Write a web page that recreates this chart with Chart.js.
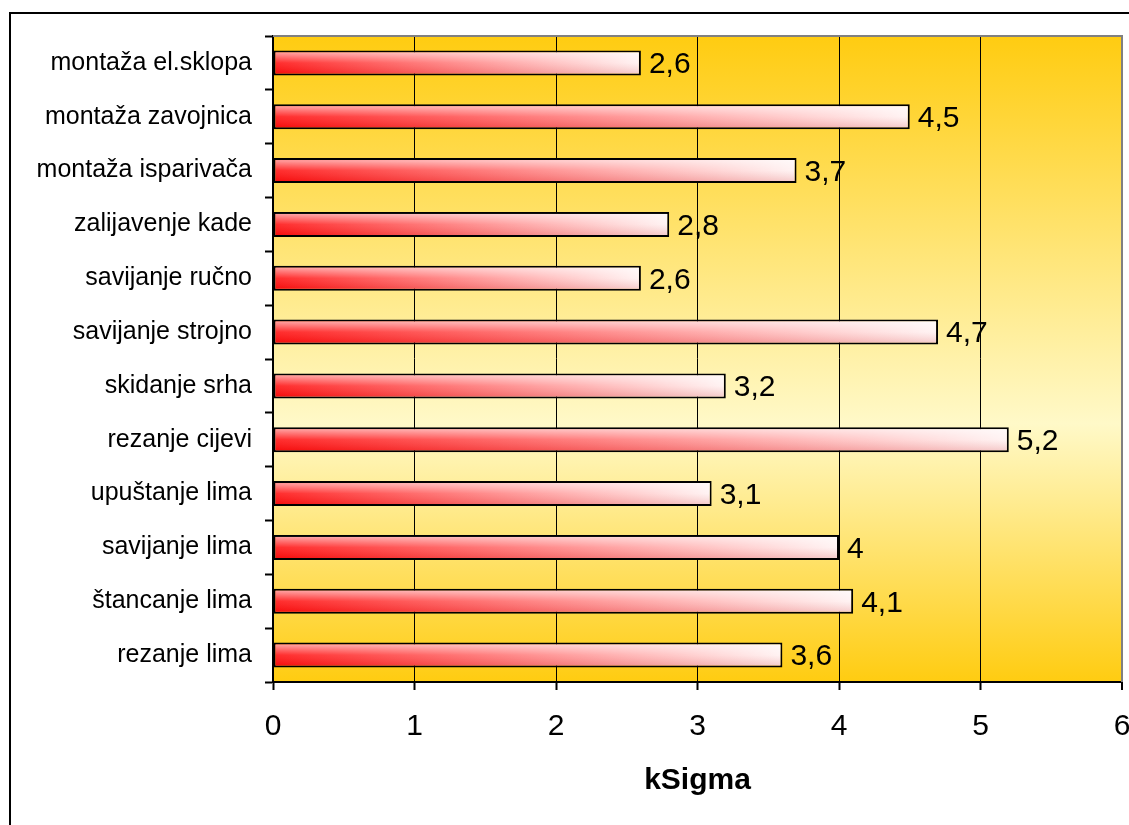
<!DOCTYPE html>
<html>
<head>
<meta charset="utf-8">
<script src="https://cdn.jsdelivr.net/npm/chart.js@4/dist/chart.umd.min.js"></script>
<style>
  html, body { margin: 0; padding: 0; background: #fff; overflow: hidden; }
  #okvir { position: absolute; left: 9px; top: 12px; width: 1300px; height: 1000px; border: 2px solid #000; box-sizing: border-box; }
  #graf { position: absolute; left: 0; top: 0; }
</style>
</head>
<body>
<div id="okvir"></div>
<canvas id="graf" width="1129" height="825"></canvas>
<script>
// podaci
const kategorije = [
  "montaža el.sklopa",
  "montaža zavojnica",
  "montaža isparivača",
  "zalijavenje kade",
  "savijanje ručno",
  "savijanje strojno",
  "skidanje srha",
  "rezanje cijevi",
  "upuštanje lima",
  "savijanje lima",
  "štancanje lima",
  "rezanje lima"
];
const vrijednosti = [2.6, 4.5, 3.7, 2.8, 2.6, 4.7, 3.2, 5.2, 3.1, 4, 4.1, 3.6];
const osX = [0, 1, 2, 3, 4, 5, 6];
const naslovX = "kSigma";

const FONT = "'Liberation Sans', Arial, sans-serif";

// pozadina plota (žuti gradijent) i sivi okvir gore/desno
const pozadina = {
  id: "pozadina",
  beforeDraw(chart) {
    const { ctx, chartArea: a } = chart;
    const g = ctx.createLinearGradient(0, a.top, 0, a.bottom);
    g.addColorStop(0, "#FFCC11");
    g.addColorStop(0.6, "#FFF9C8");
    g.addColorStop(1, "#FFCC11");
    ctx.save();
    ctx.fillStyle = g;
    ctx.fillRect(a.left, a.top, a.right - a.left, a.bottom - a.top);
    ctx.restore();
  },
  afterDraw(chart) {
    const { ctx, chartArea: a } = chart;
    ctx.save();
    ctx.strokeStyle = "#808080";
    ctx.lineWidth = 2;
    ctx.beginPath();
    ctx.moveTo(a.left, a.top);
    ctx.lineTo(a.right, a.top);
    ctx.lineTo(a.right, a.bottom);
    ctx.stroke();
    ctx.restore();
  }
};

// sjaj na trakama + oznake vrijednosti
const oznake = {
  id: "oznake",
  afterDatasetsDraw(chart) {
    const ctx = chart.ctx;
    const meta = chart.getDatasetMeta(0);
    meta.data.forEach((bar, i) => {
      const p = bar.getProps(["x", "y", "base", "height"], true);
      const top = p.y - p.height / 2 + 2, bot = p.y + p.height / 2 - 2;
      const g = ctx.createLinearGradient(0, top, 0, bot);
      g.addColorStop(0, "rgba(255,255,255,0.6)");
      g.addColorStop(0.5, "rgba(255,255,255,0.12)");
      g.addColorStop(1, "rgba(190,0,0,0.15)");
      ctx.save();
      ctx.fillStyle = g;
      ctx.fillRect(p.base + 2, top, p.x - p.base - 4, bot - top);
      ctx.fillStyle = "#000";
      ctx.font = "30px " + FONT;
      ctx.textAlign = "left";
      ctx.textBaseline = "middle";
      ctx.fillText(String(vrijednosti[i]).replace(".", ","), p.x + 8, p.y + 2);
      ctx.restore();
    });
  }
};

new Chart(document.getElementById("graf"), {
  type: "bar",
  data: {
    labels: kategorije,
    datasets: [{
      data: vrijednosti,
      backgroundColor(c) {
        const x = c.chart.scales.x;
        if (!x || c.type !== "data") return "#ff4040";
        const x0 = x.getPixelForValue(0), x1 = x.getPixelForValue(c.raw);
        if (!isFinite(x0) || !isFinite(x1) || x1 <= x0) return "#ff4040";
        const g = c.chart.ctx.createLinearGradient(x0, 0, x1, 0);
        g.addColorStop(0, "#FF1010");
        g.addColorStop(1, "#FFF2F2");
        return g;
      },
      borderColor: "#000",
      borderWidth: 2,
      borderSkipped: false,
      barPercentage: 0.465,
      categoryPercentage: 1
    }]
  },
  options: {
    indexAxis: "y",
    responsive: false,
    animation: false,
    layout: { padding: { top: 36, right: 7, left: 0, bottom: 0 } },
    plugins: { legend: { display: false }, tooltip: { enabled: false } },
    scales: {
      x: {
        min: osX[0],
        max: osX[osX.length - 1],
        afterBuildTicks(s) { s.ticks = osX.map(v => ({ value: v })); },
        ticks: { color: "#000", font: { size: 30, family: FONT }, padding: 19 },
        grid: {
          color: c => (c.tick && c.tick.value === 6 ? "#808080" : "#000"),
          lineWidth: c => (c.tick && c.tick.value === 6 ? 2 : 1),
          tickLength: 8, tickWidth: 2, tickColor: "#000"
        },
        border: { color: "#000", width: 2 },
        title: {
          display: true, text: naslovX, color: "#000",
          font: { size: 30, weight: "bold", family: FONT },
          padding: { top: 0, bottom: 26 }
        },
        afterFit(s) { s.height = 143; s.paddingLeft = 0; s.paddingRight = 0; }
      },
      y: {
        ticks: { color: "#000", font: { size: 25, family: FONT }, padding: 13 },
        grid: { drawOnChartArea: false, offset: true, tickLength: 8, tickWidth: 2, tickColor: "#000" },
        border: { color: "#000", width: 2 },
        afterFit(s) { s.width = 273; s.paddingTop = 0; s.paddingBottom = 0; }
      }
    }
  },
  plugins: [pozadina, oznake]
});
</script>
</body>
</html>
